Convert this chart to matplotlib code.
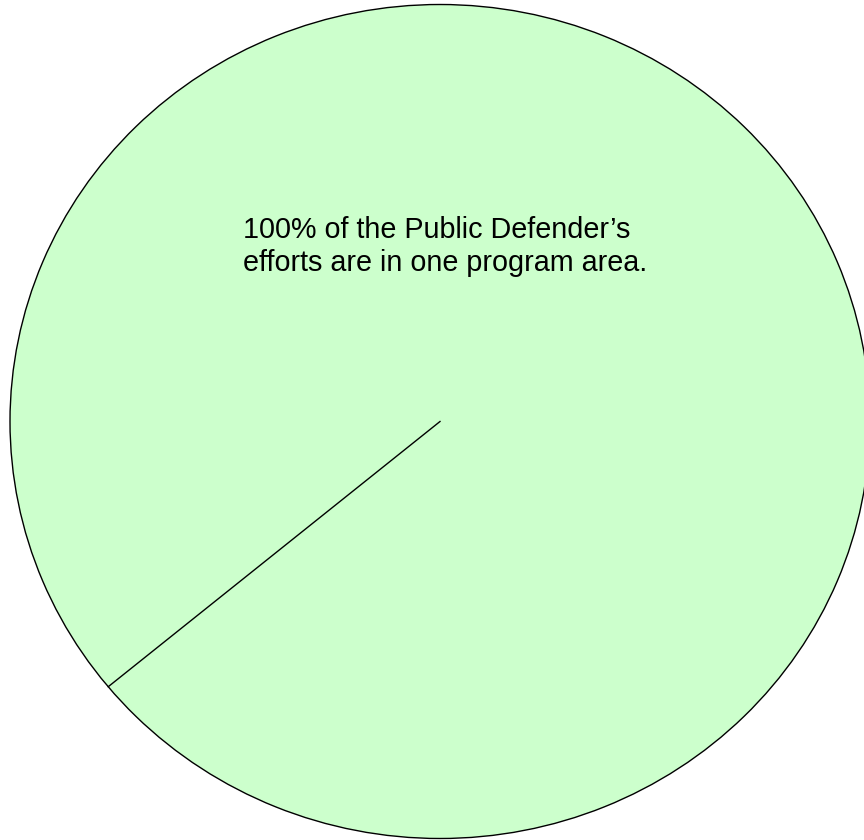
import numpy as np
import matplotlib.pyplot as plt

# Single program area -> one full slice
labels = ["Public Defender"]
shares = [100]
start_angle = 219.5
note = "100% of the Public Defender\u2019s\nefforts are in one program area."

fig = plt.figure(figsize=(8.64, 8.4), dpi=100)
# axes laid out so the pie is slightly wider than tall, as in the original
ax = fig.add_axes([10 / 864, 1.5 / 840, 860 / 864, 834 / 840])

ax.pie(shares, labels=None, colors=["#ccffcc"], startangle=start_angle,
       counterclock=True,
       wedgeprops=dict(edgecolor="black", linewidth=1.0))

# a full-circle wedge shows no radial edge, so draw the slice boundary
theta = np.deg2rad(start_angle)
ax.plot([0, np.cos(theta)], [0, np.sin(theta)], color="black", linewidth=1.0)

ax.set_aspect("auto")
ax.set_xlim(-1, 1)
ax.set_ylim(-1, 1)
ax.axis("off")

ax.text(-0.458, 0.492, note, ha="left", va="top", fontsize=20.7,
        family="Liberation Sans", linespacing=1.22, color="black")

fig.savefig("out.png", dpi=100, facecolor="white")
